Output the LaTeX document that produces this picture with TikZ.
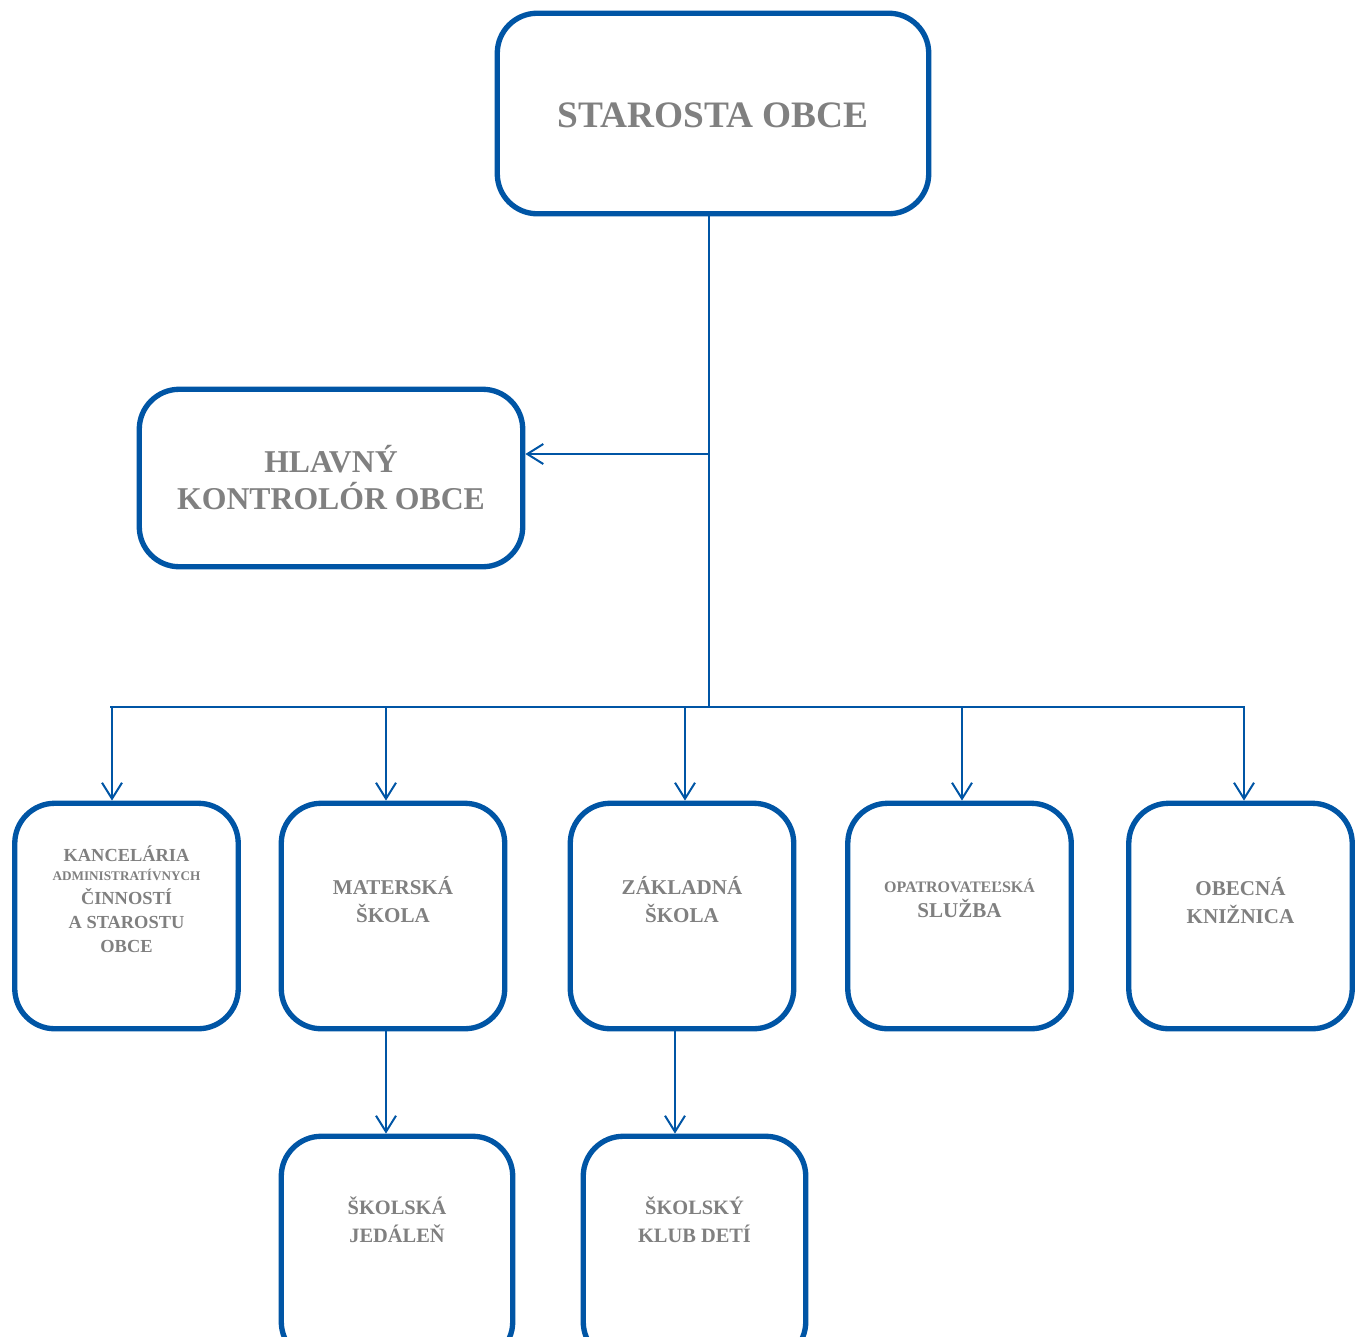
\documentclass[tikz,border=0pt]{standalone}
\usepackage{fontspec}
\setmainfont{Liberation Serif}
\usetikzlibrary{arrows.meta,positioning}
\definecolor{orgblue}{RGB}{0,85,165}
\definecolor{orggray}{RGB}{128,128,128}
\tikzset{every picture/.style={line width=0.75pt}}
\tikzset{
	unit/.style={draw=orgblue, line width=4pt, rounded corners=30pt, fill=white},
	unitrow/.style={unit, minimum width=167.6pt, minimum height=169.1pt},
	unittext/.style={text=orggray, font=\bfseries, align=center, inner sep=0pt},
	conn/.style={draw=orgblue, line width=1.5pt},
	arr/.style={conn, -{Straight Barb[length=12pt,width=15pt]}}
}

\begin{document}
\begin{tikzpicture}[x=0.75pt,y=0.75pt,yscale=-1]
	\useasboundingbox (0,0) rectangle (1362,1336);
	\clip (0,0) rectangle (1362,1336);
	% Draw boxes
	\node[unit, minimum width=323.6pt, minimum height=150.4pt] (starosta) at (713,113.5) {};
	\node[unit, minimum width=287.6pt, minimum height=133.1pt] (kontrolor) at (331,478) {};
	\node[unitrow] (kancelaria) at (126.5,916) {};
	\node[unitrow] (materska) at (393,916) {};
	\node[unitrow] (zakladna) at (682,916) {};
	\node[unitrow] (opatrov) at (959.5,916) {};
	\node[unitrow] (kniznica) at (1240.5,916) {};
	\node[unit, minimum width=173.6pt, minimum height=169.1pt] (jedalen) at (397,1249) {};
	\node[unit, minimum width=166.9pt, minimum height=169.1pt] (klub) at (694.5,1249) {};
	
	% Bus coordinates
	\coordinate (hub) at (709,707);
	\coordinate (kmid) at (709,454);
	\coordinate (busL) at (110,707);
	\coordinate (busR) at (1245,707);
	\coordinate (d1) at (112,707);
	\coordinate (d2) at (386,707);
	\coordinate (d3) at (685,707);
	\coordinate (d4) at (962,707);
	\coordinate (d5) at (1244,707);
	\coordinate (m1) at (386,1031);
	\coordinate (z1) at (675,1031);
	
	% Draw straight lines
	\draw[conn] (starosta.south -| hub) -- (hub);
	\draw[arr] (kmid) -- (kmid -| kontrolor.east);
	\draw[conn] (busL) -- (busR);
	\draw[arr] (d1) -- (d1 |- kancelaria.north);
	\draw[arr] (d2) -- (d2 |- materska.north);
	\draw[arr] (d3) -- (d3 |- zakladna.north);
	\draw[arr] (d4) -- (d4 |- opatrov.north);
	\draw[arr] (d5) -- (d5 |- kniznica.north);
	\draw[arr] (m1) -- (m1 |- jedalen.north);
	\draw[arr] (z1) -- (z1 |- klub.north);
	
	% Add text nodes
	\node[unittext, font=\bfseries\fontsize{28}{34}\selectfont] (tstarosta) at (713,115) {STAROSTA OBCE};
	\node[unittext, font=\bfseries\fontsize{23.8}{27.75}\selectfont] (tkontrolor) at (331,478) {HLAVNÝ\\KONTROLÓR OBCE};
	\node[unittext, font=\bfseries\fontsize{13.8}{18}\selectfont] (tkancelaria) at (126.5,899) {KANCELÁRIA\\[-3.75pt]{\fontsize{9.9}{12}\selectfont ADMINISTRATÍVNYCH}\\ČINNOSTÍ\\A STAROSTU\\OBCE};
	\node[unittext, font=\bfseries\fontsize{15.8}{21}\selectfont] (tmaterska) at (393,900) {MATERSKÁ\\ŠKOLA};
	\node[unittext, font=\bfseries\fontsize{15.8}{21}\selectfont] (tzakladna) at (682,900) {ZÁKLADNÁ\\ŠKOLA};
	\node[unittext, font=\bfseries\fontsize{15.8}{21}\selectfont] (topatrov) at (959.5,898) {{\fontsize{12}{14}\selectfont OPATROVATEĽSKÁ}\\[-2pt]SLUŽBA};
	\node[unittext, font=\bfseries\fontsize{15.8}{21}\selectfont] (tkniznica) at (1240.5,901) {OBECNÁ\\KNIŽNICA};
	\node[unittext, font=\bfseries\fontsize{15.3}{21}\selectfont] (tjedalen) at (397,1220) {ŠKOLSKÁ\\JEDÁLEŇ};
	\node[unittext, font=\bfseries\fontsize{15.3}{21}\selectfont] (tklub) at (694.5,1220) {ŠKOLSKÝ\\KLUB DETÍ};
\end{tikzpicture}
\end{document}
